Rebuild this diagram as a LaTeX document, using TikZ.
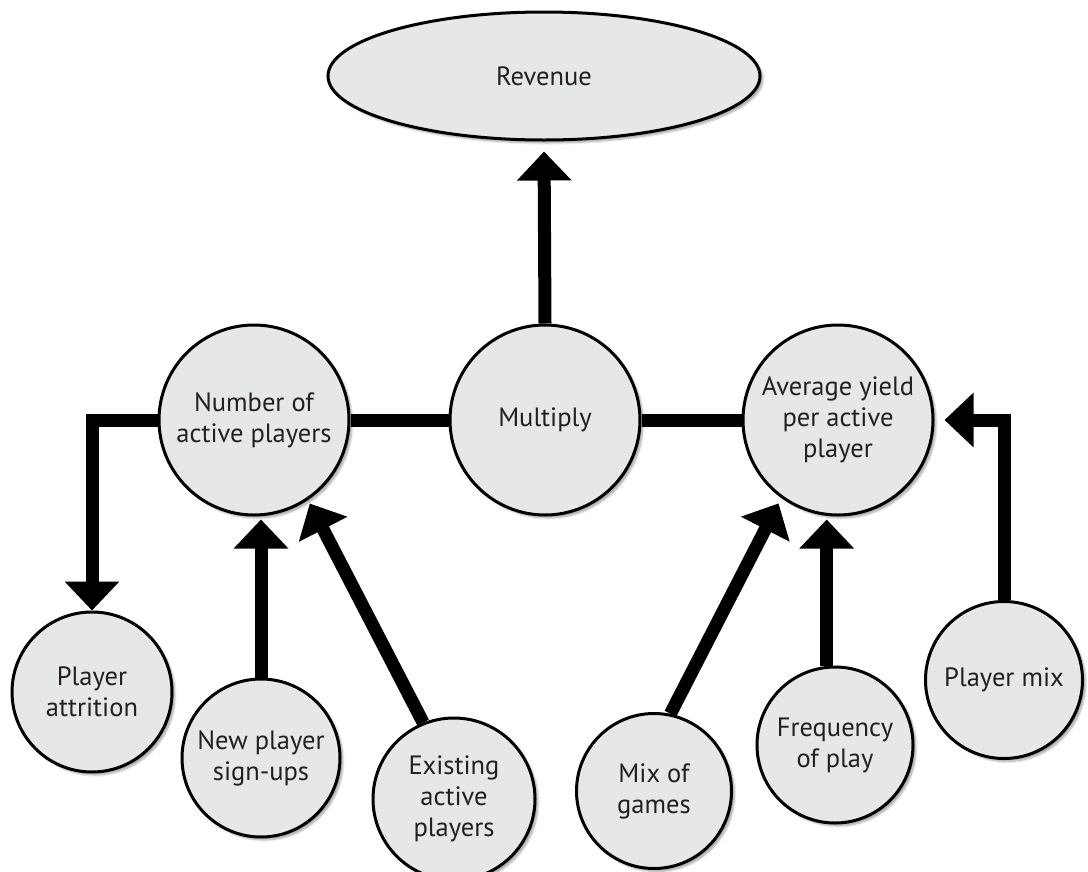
\documentclass[tikz,border=0pt]{standalone}
\usepackage{fontspec}
\setmainfont{PT Sans}
\usetikzlibrary{arrows.meta,shadows.blur,shapes.geometric}
\definecolor{nodefill}{HTML}{E6E7E8}
\definecolor{ink}{HTML}{231F20}
\tikzset{
  bubble/.style={circle, draw=black, line width=3pt, fill=nodefill,
    blur shadow={shadow xshift=3pt, shadow yshift=-3pt, shadow blur steps=6, shadow opacity=35},
    align=center, font=\fontsize{26.5}{31}\selectfont, text=ink, inner sep=0pt},
  link/.style={line width=13pt, draw=black},
  flow/.style={link, -{Triangle[width=53pt,length=29pt]}}
}
\begin{document}
\begin{tikzpicture}[x=1pt,y=-1pt]
\useasboundingbox (0,0) rectangle (1088,871);
\node[bubble, ellipse, minimum width=432pt, minimum height=128pt] (rev) at (544,76) {Revenue};
\node[bubble, minimum size=190pt] (mult) at (545,420) {Multiply};
\node[bubble, minimum size=190pt] (num) at (254,420) {Number of\\active players};
\node[bubble, minimum size=190pt] (avg) at (838,420) {Average yield\\per active\\player};
\node[bubble, minimum size=160pt] (attr) at (92,692) {Player\\attrition};
\node[bubble, minimum size=158pt] (new) at (261,758) {New player\\sign-ups};
\node[bubble, minimum size=162pt] (exist) at (454,799) {Existing\\active\\players};
\node[bubble, minimum size=155pt] (games) at (654,791) {Mix of\\games};
\node[bubble, minimum size=156pt] (freq) at (835,745) {Frequency\\of play};
\node[bubble, minimum size=157pt] (pmix) at (1004,680) {Player mix};
\draw[flow, shorten >=10pt] (mult.north) -- (rev.south);
\draw[link] (num.east) -- (mult.west);
\draw[link] (mult.east) -- (avg.west);
\draw[flow] (num.west) -| (attr.north);
\draw[flow, shorten >=3pt] (new.north) -- (new.north |- num.south);
\draw[flow, shorten >=4pt] (exist.112) -- (num.-56);
\draw[flow, shorten >=6pt] (games.78) -- (avg.-126);
\draw[flow, shorten >=3pt] (freq.96) -- (freq.96 |- avg.south);
\draw[flow, shorten >=10pt] (pmix.north) |- (avg.east);
\end{tikzpicture}
\end{document}
